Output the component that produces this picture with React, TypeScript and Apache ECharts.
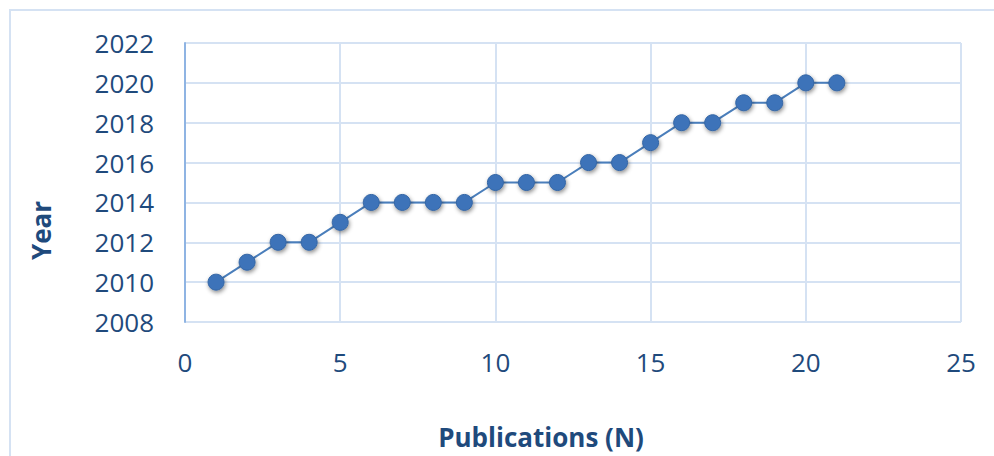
import React, { useEffect, useRef } from "react";
import * as echarts from "echarts";

const publications = [1, 2, 3, 4, 5, 6, 7, 8, 9, 10, 11, 12, 13, 14, 15, 16, 17, 18, 19, 20, 21];
const years = [2010, 2011, 2012, 2012, 2013, 2014, 2014, 2014, 2014, 2015, 2015, 2015, 2016, 2016, 2017, 2018, 2018, 2019, 2019, 2020, 2020];
const xTitle = "Publications (N)";
const yTitle = "Year";

export default function App() {
  const ref = useRef<HTMLDivElement>(null);
  useEffect(() => {
    if (!ref.current) return;
    const chart = echarts.init(ref.current, null, { renderer: "svg" });
    const labelColor = "#1f4a7c";
    chart.setOption({
      animation: false,
      backgroundColor: "#ffffff",
      textStyle: { fontFamily: "Open Sans" },
      graphic: [
        {
          type: "rect",
          shape: { x: 10, y: 10, width: 1100, height: 600 },
          style: { fill: "none", stroke: "#d5e2f3", lineWidth: 2 },
          silent: true,
        },
      ],
      grid: { left: 185, right: 33, top: 43, bottom: 134, containLabel: false, outerBoundsMode: "none" },
      xAxis: {
        type: "value",
        min: 0,
        max: 25,
        interval: 5,
        name: xTitle,
        nameLocation: "middle",
        nameGap: 102,
        nameTextStyle: {
          color: labelColor,
          fontSize: 26,
          fontWeight: "bold",
          fontFamily: "Open Sans",
          padding: [0, 64, 0, 0],
        },
        axisLine: { show: false },
        axisTick: { show: false },
        axisLabel: { color: labelColor, fontSize: 26, margin: 27, formatter: (v: number) => String(v) },
        splitLine: { show: true, lineStyle: { color: "#d5e2f3", width: 2 } },
      },
      yAxis: {
        type: "value",
        min: 2008,
        max: 2022,
        interval: 2,
        name: yTitle,
        nameLocation: "middle",
        nameGap: 131,
        nameTextStyle: {
          color: labelColor,
          fontSize: 26,
          fontWeight: "bold",
          fontFamily: "Open Sans",
          padding: [0, 96, 0, 0],
        },
        axisLine: { show: true, onZero: false, lineStyle: { color: "#8fb4e3", width: 2 } },
        axisTick: { show: false },
        axisLabel: { color: labelColor, fontSize: 26, margin: 31, formatter: (v: number) => String(v) },
        splitLine: { show: true, lineStyle: { color: "#d5e2f3", width: 2 } },
      },
      series: [
        {
          type: "line",
          data: publications.map((p, i) => [p, years[i]]),
          symbol: "circle",
          symbolSize: 16,
          lineStyle: { color: "#4a7ebb", width: 2 },
          itemStyle: {
            color: "#3c73b9",
            borderColor: "#3566a5",
            borderWidth: 1,
            shadowColor: "rgba(0,0,0,0.45)",
            shadowBlur: 4,
            shadowOffsetX: 1,
            shadowOffsetY: 2,
          },
        },
      ],
    });
    return () => chart.dispose();
  }, []);
  return <div ref={ref} style={{ width: 994, height: 456, position: "absolute", left: 0, top: 0 }} />;
}
